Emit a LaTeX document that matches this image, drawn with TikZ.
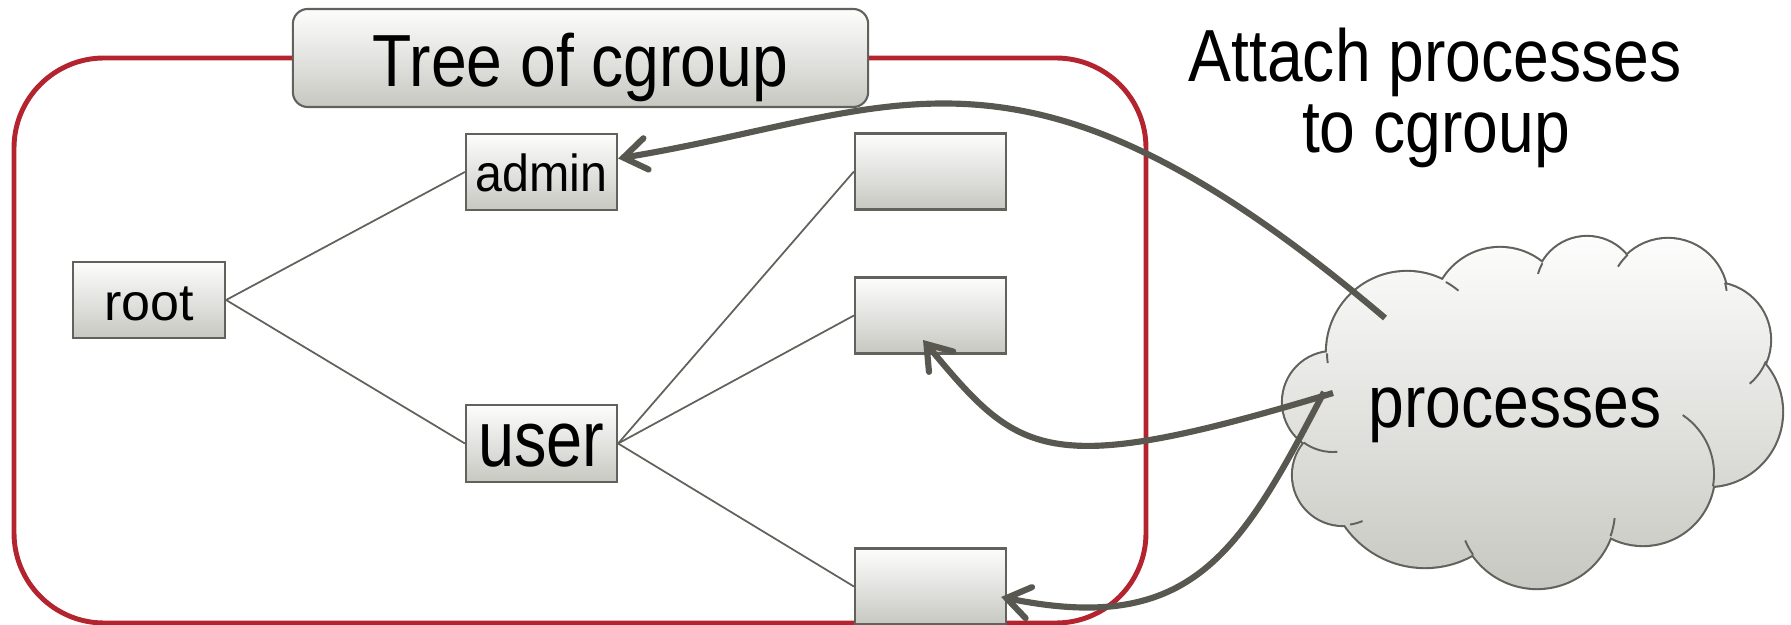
\documentclass[tikz,border=0pt]{standalone}
\usepackage{fontspec}
\setmainfont{Liberation Sans}
\newfontfamily\narrowfont[FakeStretch=0.87]{Liberation Sans}
\newfontfamily\userfont[FakeStretch=0.82]{Liberation Sans}
\newfontfamily\adminfont[FakeStretch=0.93]{Liberation Sans}
\usetikzlibrary{arrows.meta,calc}

\definecolor{framered}{RGB}{180,36,46}
\definecolor{edgegray}{RGB}{98,98,92}
\definecolor{arrowgray}{RGB}{88,88,80}
\definecolor{shadetop}{RGB}{253,253,253}
\definecolor{shadebot}{RGB}{200,200,194}

\begin{document}
\begin{tikzpicture}[x=0.01cm,y=0.01cm,
  box/.style={draw=edgegray, line width=0.6pt, top color=shadetop, bottom color=shadebot,
    minimum width=1.51cm, minimum height=0.76cm, inner sep=0pt, text depth=0pt},
  treeline/.style={draw=edgegray, line width=0.5pt},
  attacharrow/.style={draw=arrowgray, line width=1.75pt,
    -{Straight Barb[length=6.5pt,width=9pt,line cap=round]}},
  cloudstub/.style={draw=edgegray, line width=0.55pt},
]
\useasboundingbox (0,0) rectangle (1791,-625);

% container of the cgroup hierarchy
\draw[framered, line width=1.4pt, rounded corners=0.9cm] (14,-58) rectangle (1146,-623);

% heading box sitting on the container edge
\node[box, rounded corners=0.15cm, minimum width=5.75cm, minimum height=0.98cm,
  text height=0.56cm, font=\narrowfont\fontsize{21}{25}\selectfont] (title) at (580.5,-58) {Tree of cgroup};

% hierarchy nodes
\node[box, minimum width=1.52cm, text height=0.40cm, font=\fontsize{14.8}{18}\selectfont] (root) at (149,-300) {root};
\node[box, text height=0.38cm, font=\adminfont\fontsize{14.8}{18}\selectfont] (admin) at (541.5,-172) {admin};
\node[box, minimum height=0.77cm, text height=0.45cm, font=\userfont\fontsize{22.5}{26}\selectfont] (user) at (541.5,-443.5) {user};
\node[box] (g1) at (930.5,-171.5) {};
\node[box] (g2) at (930.5,-315.5) {};
\node[box] (g3) at (930.5,-586.5) {};

% tree edges
\draw[treeline] (root.east) -- (admin.west);
\draw[treeline] (root.east) -- (user.west);
\draw[treeline] (user.east) -- (g1.west);
\draw[treeline] (user.east) -- (g2.west);
\draw[treeline] (user.east) -- (g3.west);

% caption
\node[font=\narrowfont\fontsize{21}{25}\selectfont, anchor=base, inner sep=0pt] (att1) at (1435,-82) {Attach processes};
\node[font=\narrowfont\fontsize{21}{25}\selectfont, anchor=base, inner sep=0pt] (att2) at (1436,-153) {to cgroup};

% cloud: stroked puffs, then the shaded union on top leaves only the rim
\def\puffs{
  (1407,-352) circle[radius=0.80cm]
  (1500,-315) circle[radius=0.67cm]
  (1587,-288) circle[radius=0.51cm]
  (1668,-298) circle[radius=0.59cm]
  (1713,-340) circle[radius=0.57cm]
  (1708,-412) circle[radius=0.74cm]
  (1643,-474) circle[radius=0.71cm]
  (1537,-510) circle[radius=0.78cm]
  (1425,-470) circle[radius=0.97cm]
  (1343,-475) circle[radius=0.50cm]
  (1333,-402) circle[radius=0.50cm]
}
\path[draw=edgegray, line width=1.2pt] \puffs;
\shade[top color=shadetop, bottom color=shadebot] \puffs (1520,-410) ellipse[x radius=1.9cm, y radius=1.2cm];
% inner arcs of the puffs
\draw[cloudstub] (1407,-352) ++(61:0.80cm) arc[start angle=61, end angle=50, radius=0.80cm];
\draw[cloudstub] (1587,-288) ++(151:0.51cm) arc[start angle=151, end angle=164, radius=0.51cm];
\draw[cloudstub] (1668,-298) ++(133:0.59cm) arc[start angle=133, end angle=148, radius=0.59cm];
\draw[cloudstub] (1668,-298) ++(15:0.59cm) arc[start angle=15, end angle=7, radius=0.59cm];
\draw[cloudstub] (1713,-340) ++(-22:0.57cm) arc[start angle=-22, end angle=-50, radius=0.57cm];
\draw[cloudstub] (1643,-474) ++(-10:0.71cm) arc[start angle=-10, end angle=56, radius=0.71cm];
\draw[cloudstub] (1537,-510) ++(-6:0.78cm) arc[start angle=-6, end angle=-19.5, radius=0.78cm];
\draw[cloudstub] (1537,-510) ++(215:0.78cm) arc[start angle=215, end angle=203, radius=0.78cm];
\draw[cloudstub] (1343,-475) ++(-82:0.50cm) arc[start angle=-82, end angle=-67, radius=0.50cm];
\draw[cloudstub] (1333,-402) ++(-126:0.50cm) arc[start angle=-126, end angle=-85, radius=0.50cm];
\draw[cloudstub] (1407,-352) ++(181:0.80cm) arc[start angle=181, end angle=188, radius=0.80cm];

\node[font=\narrowfont\fontsize{21}{25}\selectfont, anchor=base, inner sep=0pt] (proc) at (1515,-428) {processes};

% attachment arrows from the cloud
\coordinate (src1) at (1385,-318);
\coordinate (src2) at (1333,-393);
\coordinate (src3) at (1324,-392);
\draw[attacharrow] (src1) .. controls (1020,-8) and (900,-112) .. (admin.10);
\draw[attacharrow] (src2) .. controls (1043,-481) and (1019,-455) .. ([xshift=-0.075cm,yshift=-0.245cm]g2.center);
\draw[attacharrow] (src3) .. controls (1240,-553) and (1192,-636) .. ([xshift=-0.06cm,yshift=-0.105cm]g3.east);
\end{tikzpicture}
\end{document}
